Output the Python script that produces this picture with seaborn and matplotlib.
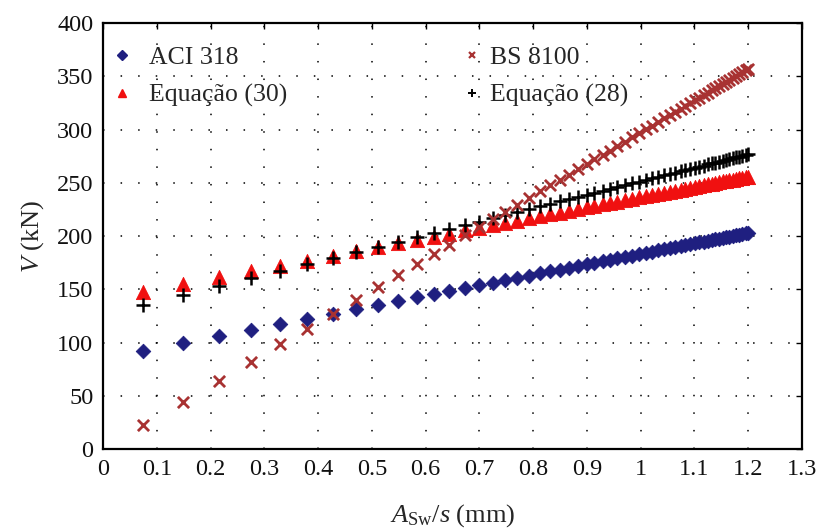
import numpy as np
import pandas as pd
import matplotlib
matplotlib.use("Agg")
import matplotlib.pyplot as plt
from matplotlib.lines import Line2D
import seaborn as sns

# Stirrup ratio A_sw/s (mm) at which the shear capacity was evaluated
asw_s = [0.075, 0.149, 0.215, 0.275, 0.330, 0.380, 0.427, 0.470, 0.511, 0.548,
         0.583, 0.615, 0.644, 0.674, 0.699, 0.725, 0.748, 0.770, 0.792, 0.813,
         0.832, 0.849, 0.866, 0.883, 0.900, 0.914, 0.929, 0.942, 0.956, 0.970,
         0.984, 0.997, 1.009, 1.021, 1.033, 1.044, 1.054, 1.064, 1.074, 1.083,
         1.092, 1.101, 1.109, 1.117, 1.125, 1.132, 1.139, 1.146, 1.153, 1.159,
         1.165, 1.171, 1.177, 1.183, 1.189, 1.195, 1.200]

# Shear capacity V (kN) for each model
v_aci318 = [92.5, 99.7, 106.2, 112.1, 117.5, 122.4, 127.0, 131.3, 135.3, 138.9,
            142.3, 145.5, 148.3, 151.3, 153.7, 156.3, 158.6, 160.7, 162.9, 164.9,
            166.8, 168.5, 170.1, 171.8, 173.5, 174.9, 176.3, 177.6, 179.0, 180.4,
            181.7, 183.0, 184.2, 185.4, 186.5, 187.6, 188.6, 189.6, 190.6, 191.5,
            192.3, 193.2, 194.0, 194.8, 195.6, 196.3, 197.0, 197.6, 198.3, 198.9,
            199.5, 200.1, 200.7, 201.3, 201.9, 202.4, 202.9]

v_bs8100 = [22.3, 44.3, 64.0, 81.8, 98.2, 113.1, 127.0, 139.8, 152.0, 163.0,
            173.4, 183.0, 191.6, 200.5, 208.0, 215.7, 222.5, 229.1, 235.6, 241.9,
            247.5, 252.6, 257.6, 262.7, 267.8, 271.9, 276.4, 280.2, 284.4, 288.6,
            292.7, 296.6, 300.2, 303.7, 307.3, 310.6, 313.6, 316.5, 319.5, 322.2,
            324.9, 327.5, 329.9, 332.3, 334.7, 336.8, 338.9, 340.9, 343.0, 344.8,
            346.6, 348.4, 350.2, 351.9, 353.7, 355.5, 357.0]

v_eq30 = [147.7, 154.8, 161.1, 166.9, 172.2, 177.0, 181.5, 185.6, 189.6, 193.1,
          196.5, 199.5, 202.3, 205.2, 207.6, 210.1, 212.3, 214.4, 216.5, 218.5,
          220.4, 222.0, 223.6, 225.3, 226.9, 228.2, 229.7, 230.9, 232.3, 233.6,
          235.0, 236.2, 237.4, 238.5, 239.7, 240.7, 241.7, 242.6, 243.6, 244.5,
          245.3, 246.2, 247.0, 247.7, 248.5, 249.2, 249.8, 250.5, 251.2, 251.8,
          252.3, 252.9, 253.5, 254.1, 254.6, 255.2, 255.7]

v_eq28 = [135.0, 144.3, 152.6, 160.2, 167.1, 173.4, 179.3, 184.7, 189.9, 194.5,
          199.0, 203.0, 206.6, 210.4, 213.6, 216.9, 219.7, 222.5, 225.3, 227.9,
          230.3, 232.5, 234.6, 236.8, 238.9, 240.7, 242.6, 244.2, 246.0, 247.7,
          249.5, 251.1, 252.6, 254.1, 255.7, 257.0, 258.3, 259.6, 260.8, 262.0,
          263.1, 264.2, 265.2, 266.2, 267.3, 268.1, 269.0, 269.9, 270.8, 271.5,
          272.3, 273.0, 273.8, 274.6, 275.3, 276.1, 276.7]

x_ticks = [0, 0.1, 0.2, 0.3, 0.4, 0.5, 0.6, 0.7, 0.8, 0.9, 1, 1.1, 1.2, 1.3]
x_tick_labels = ["0", "0.1", "0.2", "0.3", "0.4", "0.5", "0.6", "0.7", "0.8",
                 "0.9", "1", "1.1", "1.2", "1.3"]
y_ticks = [0, 50, 100, 150, 200, 250, 300, 350, 400]

sns.set_theme(style="white")
plt.rcParams["font.family"] = ["Liberation Serif", "DejaVu Serif"]
plt.rcParams["mathtext.fontset"] = "custom"
plt.rcParams["mathtext.rm"] = "Liberation Serif"
plt.rcParams["mathtext.it"] = "Liberation Serif:italic"

fig = plt.figure(figsize=(8.21, 5.29), dpi=100)
ax = fig.add_axes([0.1255, 0.1512, 0.9769 - 0.1255, 0.9565 - 0.1512])

c_aci = "#1f1f80"
c_bs = "#a83232"
c_eq30 = "#f01010"
c_eq28 = "#000000"

sns.scatterplot(x=asw_s, y=v_aci318, ax=ax, marker="D", s=55, color=c_aci,
                edgecolor=c_aci, linewidth=0.6, zorder=3, legend=False)
sns.scatterplot(x=asw_s, y=v_eq30, ax=ax, marker="^", s=105, color=c_eq30,
                edgecolor=c_eq30, linewidth=0.6, zorder=3, legend=False)
sns.scatterplot(x=asw_s, y=v_eq28, ax=ax, marker="+", s=95, color=c_eq28,
                linewidth=1.8, zorder=4, legend=False)
sns.scatterplot(x=asw_s, y=v_bs8100, ax=ax, marker="x", s=65, color=c_bs,
                linewidth=2.0, zorder=5, legend=False)

ax.set_xlim(0, 1.3)
ax.set_ylim(0, 400)
ax.set_xticks(x_ticks)
ax.set_xticklabels(x_tick_labels)
ax.set_yticks(y_ticks)
ax.tick_params(axis="both", which="both", direction="in", length=4, width=1,
               top=True, right=True, labelsize=17.5, pad=7, colors="black")
for lbl in ax.get_xticklabels() + ax.get_yticklabels():
    lbl.set_color("#111111")

for sp in ax.spines.values():
    sp.set_color("black")
    sp.set_linewidth(1.6)

ax.grid(True, color="black", linestyle=(0, (1, 10.5)), linewidth=1.1)
ax.set_axisbelow(True)

ax.set_xlabel(r"$A_{\mathrm{Sw}}/s$ (mm)", fontsize=19, labelpad=16)
ax.set_ylabel(r"$V$ (kN)", fontsize=19, labelpad=8)

h_aci = Line2D([], [], linestyle="none", marker="D", markersize=5,
               color=c_aci, label="ACI 318")
h_eq30 = Line2D([], [], linestyle="none", marker="^", markersize=6,
                color=c_eq30, label="Equação (30)")
h_bs = Line2D([], [], linestyle="none", marker="x", markersize=5,
              markeredgewidth=1.6, color=c_bs, label="BS 8100")
h_eq28 = Line2D([], [], linestyle="none", marker="+", markersize=6,
                markeredgewidth=1.4, color=c_eq28, label="Equação (28)")

leg_kw = dict(loc="upper left", frameon=False, fontsize=18.5,
              labelspacing=0.55, borderpad=0, borderaxespad=0)
leg1 = ax.legend(handles=[h_aci, h_eq30], bbox_to_anchor=(0.009, 0.945),
                 handlelength=1.0, handletextpad=0.55, **leg_kw)
ax.add_artist(leg1)
ax.legend(handles=[h_bs, h_eq28], bbox_to_anchor=(0.5136, 0.945),
          handlelength=0.8, handletextpad=0.3, **leg_kw)

fig.savefig("out.png", dpi=100, facecolor="white")
